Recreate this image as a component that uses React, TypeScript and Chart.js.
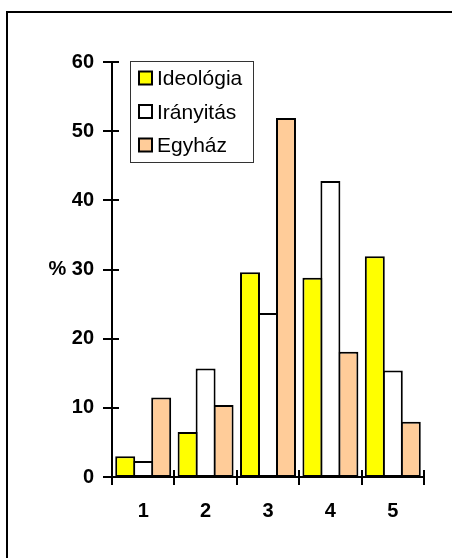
import React, { useEffect, useRef } from "react";
import { Chart, registerables } from "chart.js";

Chart.register(...registerables);

const categories = ["1", "2", "3", "4", "5"];
const ideologia = [3.0, 6.5, 29.6, 28.8, 31.9];
const iranyitas = [2.3, 15.7, 23.7, 42.8, 15.4];
const egyhaz = [11.5, 10.4, 51.9, 18.1, 8.0];
const seriesNames = ["Ideológia", "Irányitás", "Egyház"];
const seriesColors = ["#FFFF00", "#FFFFFF", "#FFCC99"];
const yMin = 0;
const yMax = 60;
const yStep = 10;
const yAxisTitle = "%";
const yTitleAt = 30;

const FONT = "'Liberation Sans', Arial, Helvetica, sans-serif";

const decorPlugin = {
  id: "decor",
  beforeDraw(chart: any) {
    const ctx = chart.ctx;
    ctx.save();
    ctx.fillStyle = "#ffffff";
    ctx.fillRect(0, 0, chart.width, chart.height);
    ctx.strokeStyle = "#000000";
    ctx.lineWidth = 2;
    ctx.strokeRect(7, 12, chart.width + 20, chart.height + 20);
    ctx.restore();
  },
  afterDraw(chart: any) {
    const ctx = chart.ctx;
    const xs = chart.scales.x;
    const ys = chart.scales.y;
    ctx.save();
    ctx.strokeStyle = "#000000";
    ctx.lineWidth = 2;
    ctx.lineCap = "butt";
    // y tick marks crossing the axis
    ys.ticks.forEach((t: any) => {
      const py = Math.round(ys.getPixelForValue(t.value));
      ctx.beginPath();
      ctx.moveTo(xs.left - 9, py);
      ctx.lineTo(xs.left + 7, py);
      ctx.stroke();
    });
    // x tick marks at category boundaries
    const n = categories.length;
    for (let i = 0; i <= n; i++) {
      const px = Math.round(xs.left + ((xs.right - xs.left) * i) / n);
      ctx.beginPath();
      ctx.moveTo(px, ys.bottom - 7);
      ctx.lineTo(px, ys.bottom + 8);
      ctx.stroke();
    }
    // legend
    const bx = 130.5;
    const by = 61.5;
    const bw = 123;
    const bh = 101;
    ctx.lineWidth = 1;
    ctx.strokeStyle = "#333333";
    ctx.fillStyle = "#ffffff";
    ctx.fillRect(bx, by, bw, bh);
    ctx.strokeRect(bx, by, bw, bh);
    ctx.font = `21px ${FONT}`;
    ctx.textBaseline = "middle";
    ctx.textAlign = "left";
    chart.data.datasets.forEach((ds: any, i: number) => {
      const cy = 78.5 + i * 33.5;
      ctx.fillStyle = ds.backgroundColor;
      ctx.fillRect(139, cy - 7, 13, 13);
      ctx.lineWidth = 2;
      ctx.strokeStyle = "#000000";
      ctx.strokeRect(139, cy - 7, 13, 13);
      ctx.fillStyle = "#000000";
      ctx.fillText(ds.label, 157, cy + 1);
    });
    ctx.restore();
  },
};

export default function App() {
  const ref = useRef<HTMLCanvasElement | null>(null);

  useEffect(() => {
    if (!ref.current) return;
    const seriesData = [ideologia, iranyitas, egyhaz];
    const chart = new Chart(ref.current, {
      type: "bar",
      data: {
        labels: categories,
        datasets: seriesNames.map((name, i) => ({
          label: name,
          data: seriesData[i],
          backgroundColor: seriesColors[i],
          borderColor: "#000000",
          borderWidth: 2,
          borderSkipped: false as any,
          barPercentage: 1.11,
          categoryPercentage: 0.865,
        })),
      },
      options: {
        responsive: false,
        animation: false,
        devicePixelRatio: 1,
        layout: { padding: { top: 62, right: 28, left: 0, bottom: 0 } },
        plugins: {
          legend: { display: false },
          tooltip: { enabled: false },
          title: { display: false },
        },
        scales: {
          x: {
            type: "category",
            offset: true,
            grid: { display: false },
            border: { display: true, color: "#000000", width: 2 },
            ticks: {
              color: "#000000",
              font: { family: FONT, size: 20, weight: "bold" },
              padding: 14,
              maxRotation: 0,
            },
            afterFit: (s: any) => {
              s.height = 81;
            },
          },
          y: {
            min: yMin,
            max: yMax,
            grid: { display: false },
            border: { display: true, color: "#000000", width: 2 },
            ticks: {
              stepSize: yStep,
              color: "#000000",
              font: { family: FONT, size: 20, weight: "bold" },
              padding: 10,
              callback: (v: any) =>
                Number(v) === yTitleAt ? `${yAxisTitle} ${v}` : String(v),
            },
            afterFit: (s: any) => {
              s.width = 112;
            },
          },
        },
      },
      plugins: [decorPlugin],
    });
    return () => chart.destroy();
  }, []);

  return (
    <canvas
      ref={ref}
      width={452}
      height={558}
      style={{ position: "fixed", left: 0, top: 0, width: 452, height: 558 }}
    />
  );
}
